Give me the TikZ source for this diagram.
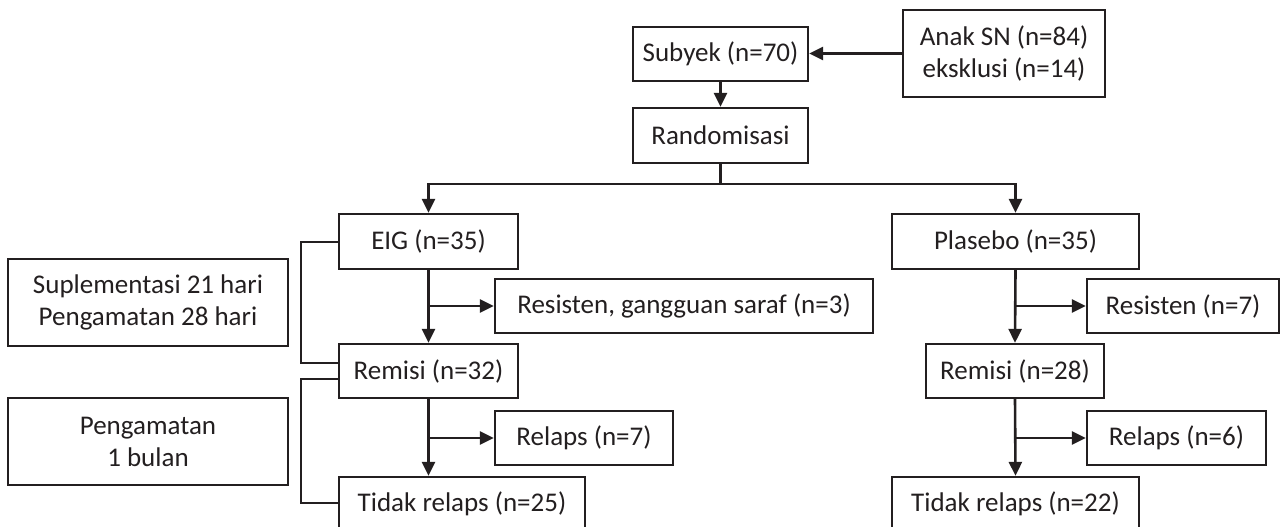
\documentclass[tikz,border=0pt]{standalone}
\usepackage{fontspec}
\setmainfont{Carlito}
\usetikzlibrary{arrows.meta}
\definecolor{ink}{HTML}{231F20}
\begin{document}
\begin{tikzpicture}[x=1pt,y=-1pt,
  box/.style={draw=ink,line width=2.3pt,text=ink,inner sep=0pt,align=center,font=\fontsize{27}{32}\selectfont},
  conn/.style={draw=ink,line width=2.6pt},
  arr/.style={conn,-{Triangle[length=14pt,width=13pt]}}]
\clip (0,0) rectangle (1280,527);
\useasboundingbox (0,0) rectangle (1280,527);
\node[box,minimum width=175pt,minimum height=54pt] (sub) at (720.5,54) {Subyek (n=70)};
\node[box,minimum width=202pt,minimum height=87pt] (anak) at (1004,53.5) {Anak SN (n=84)\\eksklusi (n=14)};
\node[box,minimum width=175pt,minimum height=55pt] (rand) at (720.5,135.5) {Randomisasi};
\node[box,minimum width=179pt,minimum height=55pt] (eig) at (428.5,241.5) {EIG (n=35)};
\node[box,minimum width=247pt,minimum height=55pt] (pla) at (1015.5,241.5) {Plasebo (n=35)};
\node[box,minimum width=378pt,minimum height=54pt] (res1) at (684,306) {Resisten, gangguan saraf (n=3)};
\node[box,minimum width=192pt,minimum height=54pt] (res2) at (1183,306) {Resisten (n=7)};
\node[box,minimum width=179pt,minimum height=54pt] (rem1) at (428.5,371) {Remisi (n=32)};
\node[box,minimum width=178pt,minimum height=54pt] (rem2) at (1015,371) {Remisi (n=28)};
\node[box,minimum width=178pt,minimum height=54pt] (rel1) at (584,438) {Relaps (n=7)};
\node[box,minimum width=179pt,minimum height=54pt] (rel2) at (1176.5,438) {Relaps (n=6)};
\node[box,minimum width=246pt,minimum height=54pt] (tid1) at (462,504) {Tidak relaps (n=25)};
\node[box,minimum width=247pt,minimum height=54pt] (tid2) at (1015.5,504) {Tidak relaps (n=22)};
\node[box,minimum width=280pt,minimum height=87pt] (sup) at (148,302.5) {Suplementasi 21 hari\\Pengamatan 28 hari};
\node[box,minimum width=280pt,minimum height=87pt] (pen) at (148,441.5) {Pengamatan\\1 bulan};
% top
\draw[arr] (anak.west) -- (sub.east |- anak.west);
\draw[arr] (sub.south) -- (rand.north);
\coordinate (split) at (720.5,184);
\draw[conn] (rand.south) -- (split);
\draw[arr] (split) -| (eig.north);
\draw[arr] (split) -| (pla.north);
% left branch
\draw[arr] (eig.south) -- (rem1.north);
\draw[arr] (eig.south |- res1.west) -- (res1.west);
\draw[arr] (rem1.south) -- (rem1.south |- tid1.north);
\draw[arr] (rem1.south |- rel1.west) -- (rel1.west);
% right branch
\draw[arr] (pla.south) -- (rem2.north);
\draw[arr] (pla.south |- res2.west) -- (res2.west);
\draw[arr] (rem2.south) -- (tid2.north);
\draw[arr] (rem2.south |- rel2.west) -- (rel2.west);
% brackets
\coordinate (b1a) at (339,242);
\coordinate (b1b) at (339,363);
\coordinate (b2a) at (339,379);
\coordinate (b2b) at (339,503);
\draw[conn] (eig.west |- b1a) -- (301,242) -- (301,363) -- (rem1.west |- b1b);
\draw[conn] (rem1.west |- b2a) -- (301,379) -- (301,503) -- (tid1.west |- b2b);
\end{tikzpicture}
\end{document}
